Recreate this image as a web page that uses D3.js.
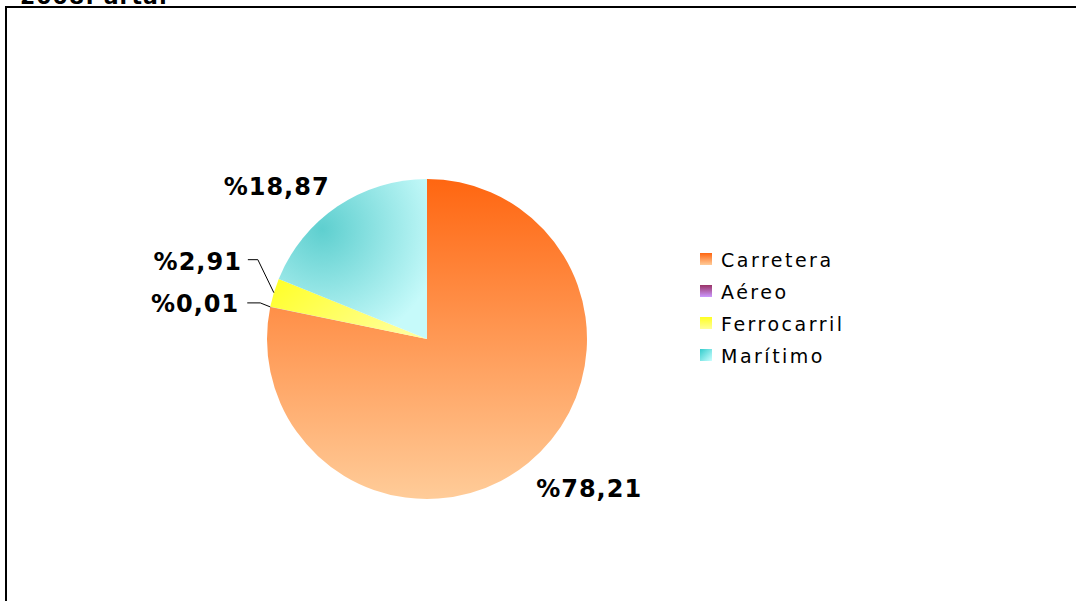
<!DOCTYPE html>
<html>
<head>
<meta charset="utf-8">
<script src="https://cdn.jsdelivr.net/npm/d3@7"></script>
<style>
  body { margin: 0; background: #fff; }
  svg { display: block; font-family: "DejaVu Sans", Verdana, sans-serif; }
</style>
</head>
<body>
<div class="pie-container"></div>
<script>
// datos
const categories = ['Carretera', 'Aéreo', 'Ferrocarril', 'Marítimo'];
const shares = [78.21, 0.01, 2.91, 18.87];
const labels = ['%78,21', '%0,01', '%2,91', '%18,87'];
const title_text = '2008: arta.';

// colores (arriba -> abajo)
const grad_colors = [
    ['#FF6611', '#FFCC99'],
    ['#993366', '#CC99FF'],
    ['#FFFF22', '#FFFF99'],
    ['#33CCCC', '#CCFFFF']
];

const svg_width = 1076;
const svg_height = 601;
const cx = 427, cy = 339, radius = 160;

const svg = d3.select('.pie-container')
    .append('svg')
    .attr('width', svg_width)
    .attr('height', svg_height);

const defs = svg.append('defs');

// gradientes de los sectores (coordenadas relativas al centro del pie)
function linear_grad(id, c, x1, y1, x2, y2){
    const g = defs.append('linearGradient')
        .attr('id', id)
        .attr('gradientUnits', 'userSpaceOnUse')
        .attr('x1', x1).attr('y1', y1).attr('x2', x2).attr('y2', y2);
    g.append('stop').attr('offset', '0%').attr('stop-color', c[0]);
    g.append('stop').attr('offset', '100%').attr('stop-color', c[1]);
}
linear_grad('g0', grad_colors[0], 0, -radius, 0, radius);
linear_grad('g1', grad_colors[1], 0, -radius, 0, radius);
linear_grad('g2', grad_colors[2], -radius, -60, -80, 40);
const rg = defs.append('radialGradient')
    .attr('id', 'g3')
    .attr('gradientUnits', 'userSpaceOnUse')
    .attr('cx', -105).attr('cy', -110).attr('r', 120);
rg.append('stop').attr('offset', '0%').attr('stop-color', '#5ECFCF');
rg.append('stop').attr('offset', '100%').attr('stop-color', '#C6FAFA');

// gradientes de la leyenda
grad_colors.forEach((c, i) => {
    const g = defs.append('linearGradient')
        .attr('id', 'lg' + i)
        .attr('x1', 0).attr('y1', 0)
        .attr('x2', i === 3 ? 1 : 0).attr('y2', 1);
    g.append('stop').attr('offset', '0%').attr('stop-color', c[0]);
    g.append('stop').attr('offset', '100%').attr('stop-color', c[1]);
});

// marco
svg.append('rect')
    .attr('x', 6).attr('y', 7)
    .attr('width', svg_width + 10).attr('height', svg_height + 10)
    .style('fill', 'none')
    .style('stroke', '#000')
    .style('stroke-width', 2);

// titulo (cortado arriba, como en el original)
svg.append('text')
    .attr('x', 20).attr('y', 4)
    .style('font-size', '22px')
    .style('font-weight', 'bold')
    .style('letter-spacing', '1px')
    .text(title_text);

// pie
const pie = d3.pie().sort(null).value(d => d)(shares);
const arc = d3.arc().innerRadius(0).outerRadius(radius);
const edge_arc = d3.arc().innerRadius(radius).outerRadius(radius);

const g = svg.append('g').attr('transform', `translate(${cx}, ${cy})`);

g.selectAll('.slice')
    .data(pie)
    .enter()
    .append('path')
    .attr('class', 'slice')
    .attr('d', arc)
    .style('fill', (d, i) => `url(#g${i})`);

// etiquetas: desplazamientos respecto al borde del sector
const label_layout = [
    {dx: 8, dy: 34, anchor: 'start', leader: null},
    {dx: -31, dy: 5, anchor: 'end', leader: [[-10, -4], [-23, -4]]},
    {dx: -32, dy: -23, anchor: 'end', leader: [[-16, -33], [-26, -33]]},
    {dx: -8, dy: -11, anchor: 'end', leader: null}
];

pie.forEach((d, i) => {
    const p = edge_arc.centroid(d);
    const L = label_layout[i];
    if (L.leader){
        const pts = [p].concat(L.leader.map(o => [p[0] + o[0], p[1] + o[1]]));
        g.append('path')
            .attr('d', d3.line()(pts))
            .style('fill', 'none')
            .style('stroke', '#000')
            .style('stroke-width', 1);
    }
    g.append('text')
        .attr('x', p[0] + L.dx)
        .attr('y', p[1] + L.dy)
        .style('text-anchor', L.anchor)
        .style('font-size', '24px')
        .style('font-weight', 'bold')
        .style('letter-spacing', '1px')
        .text(labels[i]);
});

// leyenda
const legend = svg.append('g').attr('transform', 'translate(700, 253)');
const row = d3.scaleBand().domain(categories).range([0, 128]);
const items = legend.selectAll('.item')
    .data(categories)
    .enter()
    .append('g')
    .attr('class', 'item')
    .attr('transform', d => `translate(0, ${row(d)})`);
items.append('rect')
    .attr('width', 12).attr('height', 12)
    .style('fill', (d, i) => `url(#lg${i})`);
items.append('text')
    .attr('x', 21).attr('y', 14)
    .style('font-size', '19px')
    .style('letter-spacing', '2.5px')
    .text(d => d);
</script>
</body>
</html>
